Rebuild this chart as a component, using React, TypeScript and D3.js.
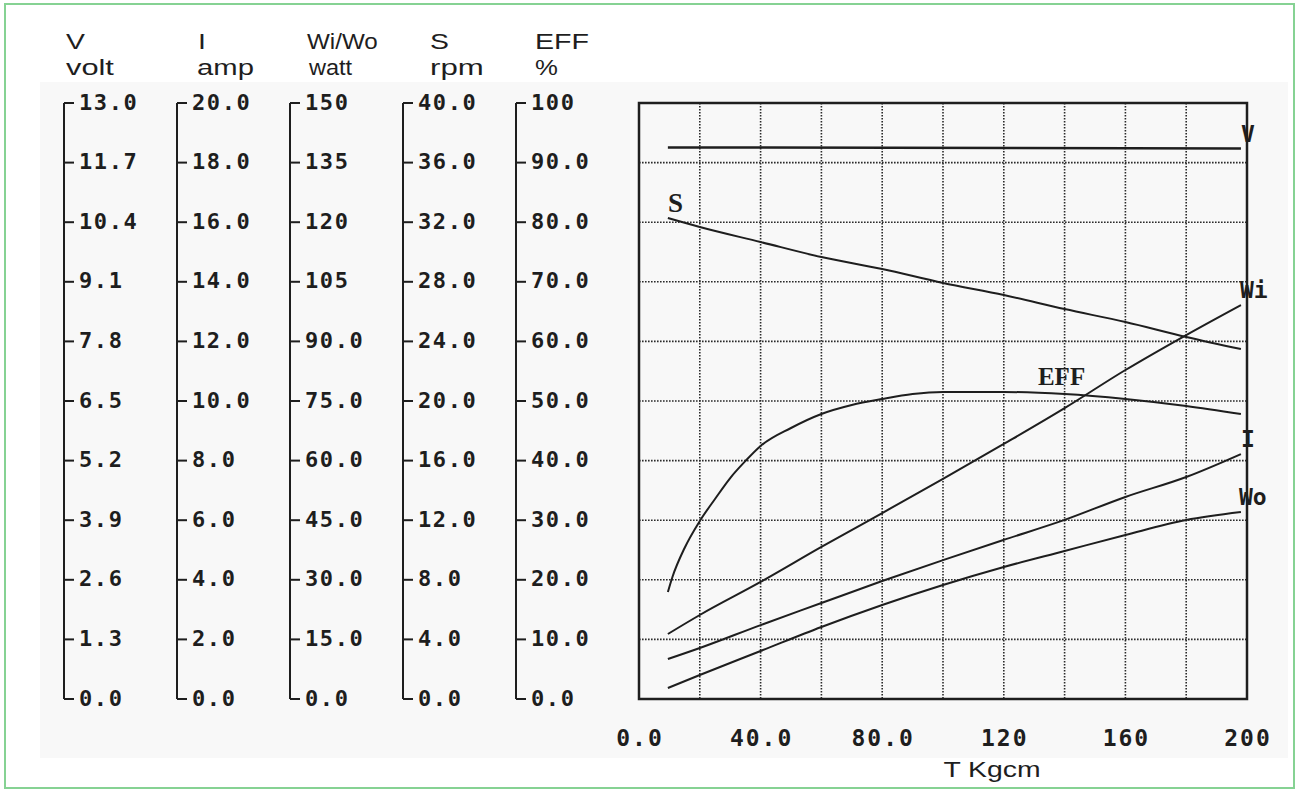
import * as d3 from 'd3'

// ─── Data ────────────────────────────────────────────────────────────────────

const torque = [9.5, 20, 40, 60, 80, 100, 120, 140, 160, 180, 198]
const speed = [32.28, 31.68, 30.67, 29.66, 28.86, 27.92, 27.11, 26.17, 25.3, 24.3, 23.49]
const inputPower = [16.36, 21.14, 29.45, 38.26, 46.81, 55.37, 64.18, 73.2, 82.8, 91.61, 99.16]
const current = [1.34, 1.71, 2.48, 3.22, 3.96, 4.66, 5.34, 6.01, 6.78, 7.45, 8.22]
const outputPower = [2.77, 6.04, 12.08, 18.12, 23.66, 28.69, 33.22, 37.25, 41.28, 45.05, 47.06]

const voltTorque = [9.5, 198]
const voltage = [12.03, 12.01]

const effTorque = [9.5, 11, 15, 20, 25, 30, 35, 40, 50, 60, 70, 80, 90, 100, 120, 140, 160, 180, 198]
const efficiency = [17.95, 20.47, 25.34, 29.87, 33.56, 37.08, 39.93, 42.45, 45.47, 47.82, 49.33, 50.34, 51.17, 51.51, 51.51, 51.17, 50.34, 49.16, 47.82]

const vTicks = [0, 1.3, 2.6, 3.9, 5.2, 6.5, 7.8, 9.1, 10.4, 11.7, 13.0]
const iTicks = [0, 2, 4, 6, 8, 10, 12, 14, 16, 18, 20]
const wTicks = [0, 15, 30, 45, 60, 75, 90, 105, 120, 135, 150]
const sTicks = [0, 4, 8, 12, 16, 20, 24, 28, 32, 36, 40]
const eTicks = [0, 10, 20, 30, 40, 50, 60, 70, 80, 90, 100]

const xTicks = [0, 40, 80, 120, 160, 200]
const xGrid = [20, 40, 60, 80, 100, 120, 140, 160, 180]
const yGrid = [10, 20, 30, 40, 50, 60, 70, 80, 90]

const axisNames = ['V', 'I', 'Wi/Wo', 'S', 'EFF']
const axisUnits = ['volt', 'amp', 'watt', 'rpm', '%']
const axisTicks = [vTicks, iTicks, wTicks, sTicks, eTicks]

// ─── Layout ─────────────────────────────────────────────────────────────────

const W = 1298
const H = 791
const PLOT = { left: 639, top: 103, right: 1247, bottom: 699 }
const AXIS_X0 = 64
const AXIS_STEP = 113
const NAME_DX = [2, 21, 17, 27, 19]
const UNIT_DX = [2, 20, 19, 27, 19]
const NAME_SX = [1.29, 1.3, 1.1, 1.29, 1.3]
const UNIT_SX = [1.4, 1.33, 1.07, 1.42, 1.17]

const INK = '#1e1e1e'
const MONO = '"DejaVu Sans Mono", monospace'
const SANS = '"Liberation Sans", Arial, sans-serif'
const SERIF = '"Liberation Serif", "Times New Roman", serif'

const x = d3.scaleLinear().domain([0, 200]).range([PLOT.left, PLOT.right])
const yV = d3.scaleLinear().domain([0, 13]).range([PLOT.bottom, PLOT.top])
const yI = d3.scaleLinear().domain([0, 20]).range([PLOT.bottom, PLOT.top])
const yW = d3.scaleLinear().domain([0, 150]).range([PLOT.bottom, PLOT.top])
const yS = d3.scaleLinear().domain([0, 40]).range([PLOT.bottom, PLOT.top])
const yE = d3.scaleLinear().domain([0, 100]).range([PLOT.bottom, PLOT.top])
const axisScales = [yV, yI, yW, yS, yE]

const fmt = (v: number) => (v >= 100 ? d3.format('d')(v) : d3.format('.1f')(v))

function path(xs: number[], ys: number[], y: d3.ScaleLinear<number, number>) {
  const pts = xs.map((t, i) => [t, ys[i]] as [number, number])
  return d3.line<[number, number]>()
    .x((d) => x(d[0]))
    .y((d) => y(d[1]))
    .curve(d3.curveMonotoneX)(pts) ?? ''
}

function endOf(xs: number[], ys: number[], y: d3.ScaleLinear<number, number>) {
  const i = xs.length - 1
  return { px: x(xs[i]), py: y(ys[i]) }
}

// ─── App ────────────────────────────────────────────────────────────────────

export default function App() {
  const vEnd = endOf(voltTorque, voltage, yV)
  const wiEnd = endOf(torque, inputPower, yW)
  const iEnd = endOf(torque, current, yI)
  const woEnd = endOf(torque, outputPower, yW)
  const sStart = { px: x(torque[0]), py: yS(speed[0]) }
  const effMark = { px: x(139), py: yE(51.2) }

  return (
    <>
      <style>{'body{margin:0;background:#fff}'}</style>
      <svg width={W} height={H} style={{ display: 'block' }}>
        <rect x={0} y={0} width={W} height={H} fill="#fff" />
        <rect x={40} y={82} width={1248} height={676} fill="#f8f8f8" />
        <rect x={5} y={4} width={1289} height={784} fill="none" stroke="#86d293" strokeWidth={2} />

        {/* Left axes */}
        {axisScales.map((sc, k) => {
          const ax = AXIS_X0 + k * AXIS_STEP
          return (
            <g key={k}>
              <text
                transform={`translate(${ax + NAME_DX[k]},49) scale(${NAME_SX[k]},1)`}
                fontFamily={SANS} fontSize={22} fill={INK}
              >{axisNames[k]}</text>
              <text
                transform={`translate(${ax + UNIT_DX[k]},75) scale(${UNIT_SX[k]},1)`}
                fontFamily={SANS} fontSize={22} fill={INK}
              >{axisUnits[k]}</text>
              <line x1={ax} x2={ax} y1={sc.range()[1]} y2={sc.range()[0]} stroke={INK} strokeWidth={2} />
              {axisTicks[k].map((v) => (
                <g key={v}>
                  <line x1={ax} x2={ax + 10} y1={sc(v)} y2={sc(v)} stroke={INK} strokeWidth={2} />
                  <text
                    x={ax + 15} y={sc(v) - 1}
                    dominantBaseline="central"
                    fontFamily={MONO} fontWeight="bold" fontSize={22} letterSpacing={1.6} fill={INK}
                  >{fmt(v)}</text>
                </g>
              ))}
            </g>
          )
        })}

        {/* Plot grid */}
        <g stroke="#2a2a2a" strokeWidth={1.6} strokeDasharray="1.6,1.4">
          {xGrid.map((t) => (
            <line key={`gx${t}`} x1={x(t)} x2={x(t)} y1={PLOT.top} y2={PLOT.bottom} />
          ))}
          {yGrid.map((v) => (
            <line key={`gy${v}`} x1={PLOT.left} x2={PLOT.right} y1={yE(v)} y2={yE(v)} />
          ))}
        </g>
        <rect
          x={PLOT.left} y={PLOT.top}
          width={PLOT.right - PLOT.left} height={PLOT.bottom - PLOT.top}
          fill="none" stroke={INK} strokeWidth={2.5}
        />

        {/* X axis labels */}
        {xTicks.map((t) => (
          <text
            key={t} x={x(t) + 1} y={738}
            textAnchor="middle" dominantBaseline="central"
            fontFamily={MONO} fontWeight="bold" fontSize={23} letterSpacing={2} fill={INK}
          >{fmt(t)}</text>
        ))}
        <text
          transform={`translate(${992},777) scale(1.29,1)`}
          textAnchor="middle" fontFamily={SANS} fontSize={22} fill={INK}
        >T Kgcm</text>

        {/* Curves */}
        <g fill="none" stroke={INK} strokeWidth={2}>
          <path d={path(voltTorque, voltage, yV)} strokeWidth={2.5} />
          <path d={path(torque, speed, yS)} />
          <path d={path(torque, inputPower, yW)} />
          <path d={path(torque, current, yI)} />
          <path d={path(torque, outputPower, yW)} />
          <path d={path(effTorque, efficiency, yE)} />
        </g>

        {/* Curve labels */}
        <g fontFamily={MONO} fontWeight="bold" fontSize={23} fill={INK}>
          <text x={vEnd.px + 7} y={vEnd.py - 6} textAnchor="middle">V</text>
          <text x={wiEnd.px - 1} y={wiEnd.py - 7}>Wi</text>
          <text x={iEnd.px + 7} y={iEnd.py - 7} textAnchor="middle">I</text>
          <text x={woEnd.px - 2} y={woEnd.py - 7}>Wo</text>
        </g>
        <g fontFamily={SERIF} fontWeight="bold" fill={INK}>
          <text x={sStart.px} y={sStart.py - 6} fontSize={27}>S</text>
          <text x={effMark.px} y={effMark.py - 9} textAnchor="middle" fontSize={25}>EFF</text>
        </g>
      </svg>
    </>
  )
}
